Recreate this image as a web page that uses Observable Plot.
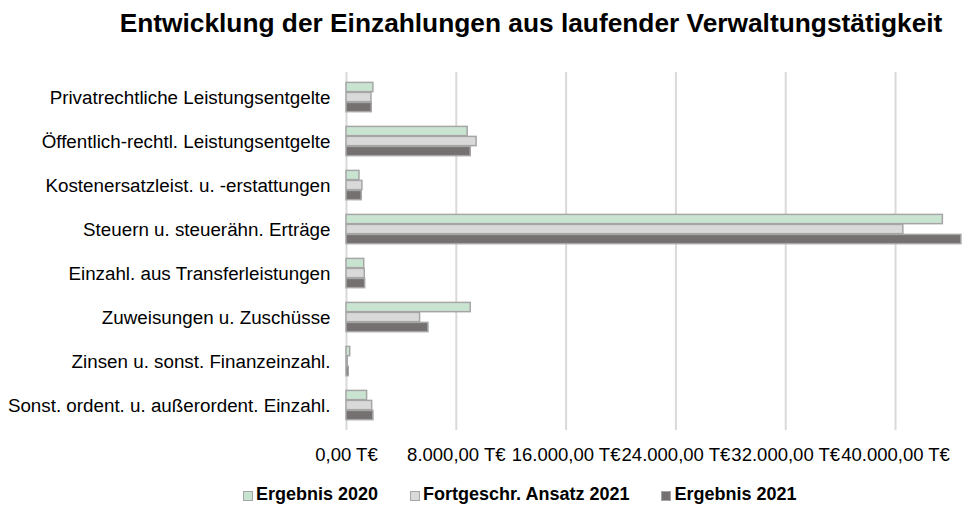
<!DOCTYPE html>
<html>
<head>
<meta charset="utf-8">
<script src="https://cdn.jsdelivr.net/npm/d3@7"></script>
<script src="https://cdn.jsdelivr.net/npm/@observablehq/plot@0.6"></script>
<style>
  html, body { margin: 0; padding: 0; background: #fff; }
  body { width: 962px; height: 507px; overflow: hidden; font-family: "Liberation Sans", Arial, sans-serif; color: #000; }
  #title { font-size: 26.3px; font-weight: bold; line-height: 30px; padding-top: 8px; padding-left: 100px; text-align: center; height: 28px; white-space: nowrap; }
  #chart { height: 434px; }
  #legend { display: flex; gap: 32px; padding-left: 243px; padding-top: 13px; font-size: 18px; font-weight: bold; line-height: 22px; }
  .item { display: flex; align-items: center; white-space: nowrap; }
  .sw { width: 8px; height: 8px; border: 1px solid #a6a6a6; margin-right: 3px; margin-top: 3px; }
</style>
</head>
<body>
<div id="title">Entwicklung der Einzahlungen aus laufender Verwaltungstätigkeit</div>
<div id="chart"></div>
<div id="legend"></div>
<script>
const categories = [
  "Privatrechtliche Leistungsentgelte",
  "Öffentlich-rechtl. Leistungsentgelte",
  "Kostenersatzleist. u. -erstattungen",
  "Steuern u. steuerähn. Erträge",
  "Einzahl. aus Transferleistungen",
  "Zuweisungen u. Zuschüsse",
  "Zinsen u. sonst. Finanzeinzahl.",
  "Sonst. ordent. u. außerordent. Einzahl."
];
const seriesNames = ["Ergebnis 2020", "Fortgeschr. Ansatz 2021", "Ergebnis 2021"];
const ergebnis2020 = [1960, 8830, 945, 43450, 1290, 9050, 270, 1500];
const ansatz2021   = [1820, 9480, 1160, 40570, 1330, 5360, 95, 1870];
const ergebnis2021 = [1840, 9050, 1110, 44800, 1360, 5970, 165, 1960];
const xTicks = [0, 8000, 16000, 24000, 32000, 40000];
const colors = ["#c9e3d1", "#d9d9d9", "#767171"];

const rows = (vals) => categories.map((c, i) => ({category: c, value: vals[i]}));
const de = d3.formatLocale({decimal: ",", thousands: ".", grouping: [3], currency: ["", ""]});
const fmt = de.format(",.2f");

const band = 358 / categories.length;
const common = {x: "value", y: "category", stroke: "#a6a6a6", strokeWidth: 1.5};

const chart = Plot.plot({
  width: 962,
  height: 434,
  marginTop: 36,
  marginBottom: 40,
  marginLeft: 346,
  marginRight: 0,
  style: {fontFamily: "'Liberation Sans', Arial, sans-serif", fontSize: "18.5px", color: "#000", background: "#fff"},
  x: {domain: [0, 44880], axis: null},
  y: {domain: categories, padding: 0, axis: null},
  marks: [
    Plot.ruleX(xTicks, {stroke: "#d9d9d9", strokeWidth: 2}),
    Plot.barX(rows(ergebnis2020), {...common, fill: colors[0], insetTop: 7.4, insetBottom: band - 17.4}),
    Plot.barX(rows(ansatz2021), {...common, fill: colors[1], insetTop: 17.4, insetBottom: band - 27.4}),
    Plot.barX(rows(ergebnis2021), {...common, fill: colors[2], insetTop: 27.4, insetBottom: band - 37.4}),
    Plot.axisY({tickSize: 0, tickPadding: 16, fontSize: 18.8, label: null}),
    Plot.axisX({ticks: xTicks, tickFormat: d => fmt(d) + " T€", tickSize: 0, tickPadding: 17, fontSize: 18.5, label: null})
  ]
});
document.getElementById("chart").appendChild(chart);

const legend = document.getElementById("legend");
seriesNames.forEach((name, i) => {
  const item = document.createElement("div");
  item.className = "item";
  const sw = document.createElement("span");
  sw.className = "sw";
  sw.style.background = colors[i];
  item.appendChild(sw);
  item.appendChild(document.createTextNode(name));
  legend.appendChild(item);
});
</script>
</body>
</html>
